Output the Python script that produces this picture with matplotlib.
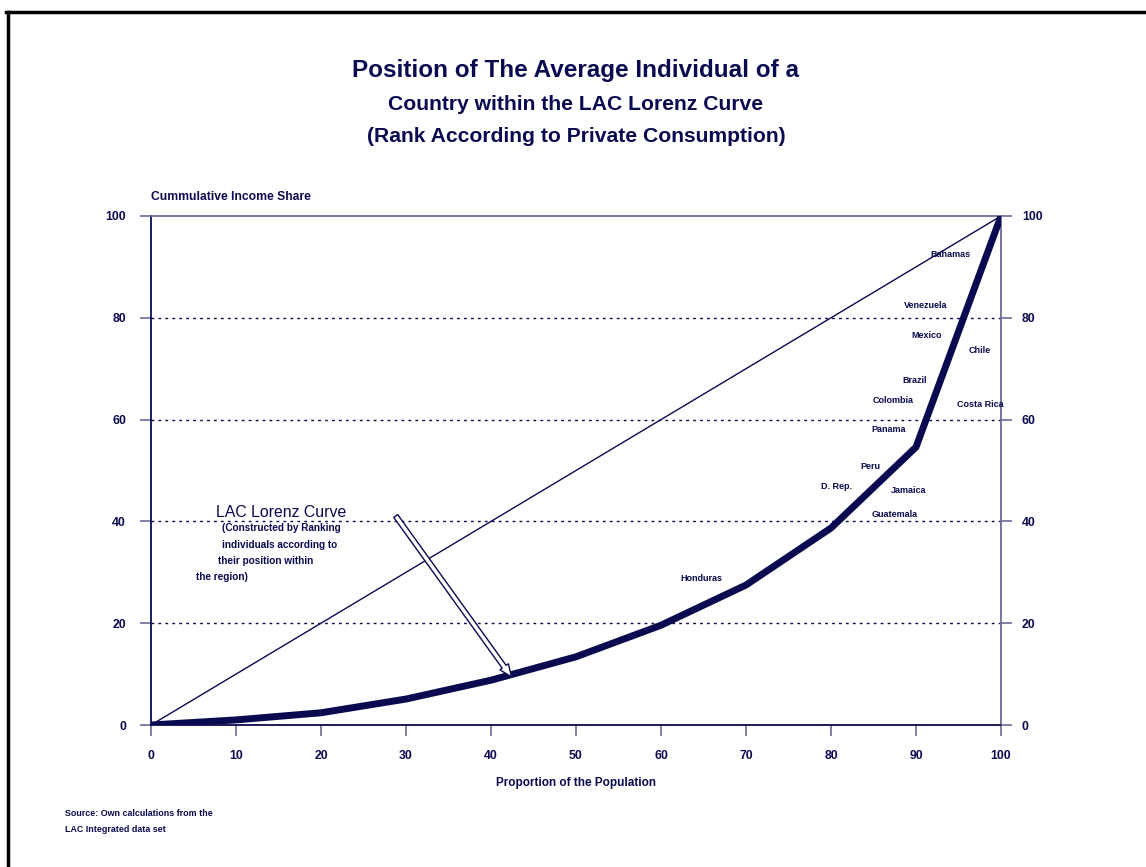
import matplotlib
matplotlib.use('Agg')
from matplotlib import pyplot as plt
from matplotlib.patches import FancyArrowPatch
from matplotlib.lines import Line2D

# data
population = [0, 10, 20, 30, 40, 50, 60, 70, 80, 90, 100]
income_share = [0, 1.0, 2.4, 5.1, 8.8, 13.4, 19.6, 27.5, 38.7, 54.6, 100]
equality = [0, 100]

countries = ['Bahamas', 'Venezuela', 'Mexico', 'Chile', 'Brazil', 'Colombia',
             'Costa Rica', 'Panama', 'Peru', 'D. Rep.', 'Jamaica', 'Guatemala',
             'Honduras']
country_x = [94.1, 91.1, 91.2, 97.5, 89.8, 87.3, 97.6, 86.8, 84.6, 80.7, 89.1, 87.5, 64.7]
country_y = [92.5, 82.5, 76.6, 73.5, 67.6, 63.7, 62.9, 58.0, 50.7, 46.8, 46.0, 41.3, 28.7]

xticks = list(range(0, 101, 10))
yticks = list(range(0, 101, 20))

navy = '#0a0a50'
pale = '#6a6a9a'

plt.rcParams['font.family'] = ['Liberation Sans', 'DejaVu Sans']
plt.rcParams['font.weight'] = 'bold'

fig = plt.figure(figsize=(11.46, 8.67), dpi=100)
ax = fig.add_axes([151 / 1146, 1 - 725 / 867, 850 / 1146, 509 / 867])

ax.plot(equality, equality, color=navy, linewidth=1.0, zorder=3)
ax.plot(population, income_share, color=navy, linewidth=5,
        solid_joinstyle='miter', zorder=4)

for y in yticks[1:-1]:
    ax.axhline(y, color=navy, linewidth=1.0, linestyle=(0, (2, 3)), zorder=1)

ax.set_xlim(0, 100)
ax.set_ylim(0, 100)
ax.set_xticks(xticks)
ax.set_yticks(yticks)
ax.tick_params(axis='both', direction='out', length=8, width=1.2,
               colors=pale, labelcolor=navy, labelsize=8.8, pad=10)
for lbl in ax.get_xticklabels() + ax.get_yticklabels():
    lbl.set_fontweight('bold')

ax.spines['left'].set_color(navy)
ax.spines['bottom'].set_color(navy)
ax.spines['top'].set_color(pale)
ax.spines['right'].set_color(pale)
for s in ax.spines.values():
    s.set_linewidth(1.3)

ax2 = ax.twinx()
ax2.set_ylim(0, 100)
ax2.set_yticks(yticks)
ax2.tick_params(axis='y', direction='out', length=8, width=1.2,
                colors=pale, labelcolor=navy, labelsize=8.8, pad=7)
for lbl in ax2.get_yticklabels():
    lbl.set_fontweight('bold')
for s in ax2.spines.values():
    s.set_visible(False)

ax.set_xlabel('Proportion of the Population', fontsize=8.5, fontweight='bold',
              color=navy, labelpad=10.5)
ax.text(0, 102.6, 'Cummulative Income Share', fontsize=8.7, fontweight='bold',
        color=navy, ha='left', va='bottom')

for name, x, y in zip(countries, country_x, country_y):
    ax.text(x, y, name, fontsize=6.5, fontweight='bold', color=navy,
            ha='center', va='center')

# annotation for the Lorenz curve
ax.text(7.6, 41.8, 'LAC Lorenz Curve', fontsize=11.4, fontweight='normal',
        color=navy, ha='left', va='center')
notes = ['(Constructed by Ranking', 'individuals according to',
         'their position within', 'the region)']
note_x = [8.35, 8.35, 7.9, 5.3]
note_y = [38.7, 35.4, 32.2, 29.1]
for t, x, y in zip(notes, note_x, note_y):
    ax.text(x, y, t, fontsize=7.2, fontweight='bold', color=navy,
            ha='left', va='center')

arrow = FancyArrowPatch((28.6, 41.5), (42.6, 9.0),
                        arrowstyle='simple,head_width=0.75,head_length=0.9,tail_width=0.35',
                        mutation_scale=10, facecolor='white', edgecolor=navy,
                        linewidth=1.0, zorder=5)
ax.add_patch(arrow)

# titles
fig.text(576 / 1146, 1 - 71 / 867, 'Position of The Average Individual of a',
         fontsize=17.5, fontweight='bold', color=navy, ha='center', va='center')
fig.text(576 / 1146, 1 - 104 / 867, 'Country within the LAC Lorenz Curve',
         fontsize=15.2, fontweight='bold', color=navy, ha='center', va='center')
fig.text(576 / 1146, 1 - 137 / 867, '(Rank According to Private Consumption)',
         fontsize=15.2, fontweight='bold', color=navy, ha='center', va='center')

fig.text(65 / 1146, 1 - 814 / 867, 'Source: Own calculations from the',
         fontsize=6.4, fontweight='bold', color=navy, ha='left', va='center')
fig.text(65 / 1146, 1 - 830 / 867, 'LAC Integrated data set',
         fontsize=6.4, fontweight='bold', color=navy, ha='left', va='center')

# outer frame (left and top edges)
fig.add_artist(Line2D([7.5 / 1146, 7.5 / 1146], [0, 1 - 11.5 / 867],
                      color='black', linewidth=2.5, transform=fig.transFigure))
fig.add_artist(Line2D([6.3 / 1146, 1], [1 - 11.5 / 867, 1 - 11.5 / 867],
                      color='black', linewidth=2.5, transform=fig.transFigure))

fig.savefig('out.png', dpi=100)
